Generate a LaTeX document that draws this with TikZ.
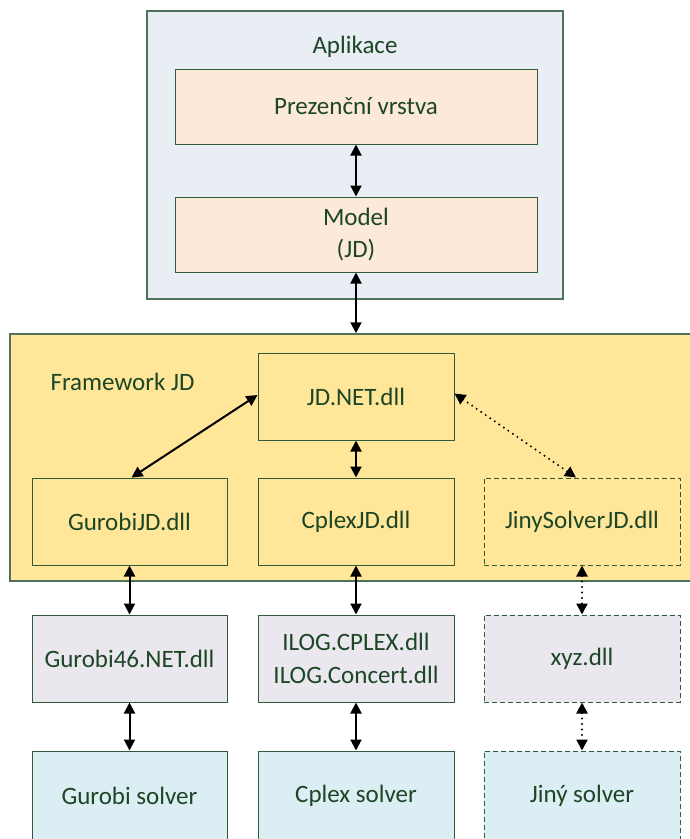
\documentclass[tikz,border=0pt]{standalone}
\usepackage{fontspec}
\setmainfont{Carlito}
\usetikzlibrary{arrows.meta,calc}
\definecolor{bordc}{HTML}{4E735A}
\definecolor{inbord}{HTML}{2F5A3C}
\definecolor{textc}{HTML}{1C4626}
\definecolor{aplfill}{HTML}{E9EDF4}
\definecolor{peach}{HTML}{FDE9D9}
\definecolor{fwfill}{HTML}{FFE699}
\definecolor{lav}{HTML}{EBE7EF}
\definecolor{cyanf}{HTML}{DBEEF3}
\tikzset{
  txt/.style={text=textc,font=\fontsize{25}{32.5}\selectfont,align=center},
  outerbox/.style={draw=bordc,line width=1.5pt,inner sep=0pt},
  box/.style={txt,draw=inbord,line width=1pt,inner sep=0pt},
  dbox/.style={box,dash pattern=on 5pt off 3pt},
  biarrow/.style={line width=2pt,{Triangle[length=11pt,width=11pt]}-{Triangle[length=11pt,width=11pt]}},
  dotarrow/.style={biarrow,line cap=round,dash pattern=on 0pt off 5.5pt,line width=2.2pt},
}
\begin{document}
\begin{tikzpicture}[x=1pt,y=-1pt]
\useasboundingbox (0,0) rectangle (690,839);
% outer containers
\node[outerbox,fill=aplfill,minimum width=416pt,minimum height=288pt] (apl) at (355,155) {};
\node[txt] (apltitle) at (355,47) {Aplikace};
\node[box,fill=peach,minimum width=362pt,minimum height=75pt] (prez) at (356,106.5) {Prezenční vrstva};
\node[box,fill=peach,minimum width=362pt,minimum height=75pt] (model) at (356,234.5) {Model\\(JD)};

\node[outerbox,fill=fwfill,minimum width=690pt,minimum height=247pt] (fw) at (355,457.5) {};
\node[txt,anchor=west] (fwtitle) at (47,382) {Framework JD};

\node[box,fill=fwfill,minimum width=196pt,minimum height=87pt] (jdnet) at (356,396.5) {JD.NET.dll};
\node[box,fill=fwfill,minimum width=195pt,minimum height=87pt] (gjd) at (129.5,521.5) {GurobiJD.dll};
\node[box,fill=fwfill,minimum width=196pt,minimum height=87pt] (cjd) at (356,521.5) {CplexJD.dll};
\node[dbox,fill=fwfill,minimum width=196pt,minimum height=87pt] (jjd) at (582,521.5) {JinySolverJD.dll};

\node[box,fill=lav,minimum width=195pt,minimum height=87pt] (glib) at (129.5,658.5) {Gurobi46.NET.dll};
\node[box,fill=lav,minimum width=196pt,minimum height=87pt] (clib) at (356,658.5) {ILOG.CPLEX.dll\\ILOG.Concert.dll};
\node[dbox,fill=lav,minimum width=196pt,minimum height=87pt] (jlib) at (582,658.5) {xyz.dll};

\node[box,fill=cyanf,minimum width=195pt,minimum height=110pt] (gsol) at (129.5,806) {};
\node[box,fill=cyanf,minimum width=196pt,minimum height=110pt] (csol) at (356,806) {};
\node[dbox,fill=cyanf,minimum width=196pt,minimum height=110pt] (jsol) at (582,806) {};
\node[txt] (gsoltxt) at (129.5,796) {Gurobi solver};
\node[txt] (csoltxt) at (356,796) {Cplex solver};
\node[txt] (jsoltxt) at (582,796) {Jiný solver};

% connectors
\draw[biarrow] (prez.south) -- (model.north);
\draw[biarrow] (model.south) -- (model.south |- fw.north);
\draw[biarrow] ([yshift=1.5pt]jdnet.west) -- ([xshift=2pt]gjd.north);
\draw[biarrow] (jdnet.south) -- (cjd.north);
\draw[dotarrow] ([yshift=3pt]jdnet.east) -- ([xshift=-6pt]jjd.north);
\draw[biarrow] (gjd.south) -- (glib.north);
\draw[biarrow] (cjd.south) -- (clib.north);
\draw[dotarrow] (jjd.south) -- (jlib.north);
\draw[biarrow] (glib.south) -- (gsol.north);
\draw[biarrow] (clib.south) -- (csol.north);
\draw[dotarrow] (jlib.south) -- (jsol.north);
\end{tikzpicture}
\end{document}
